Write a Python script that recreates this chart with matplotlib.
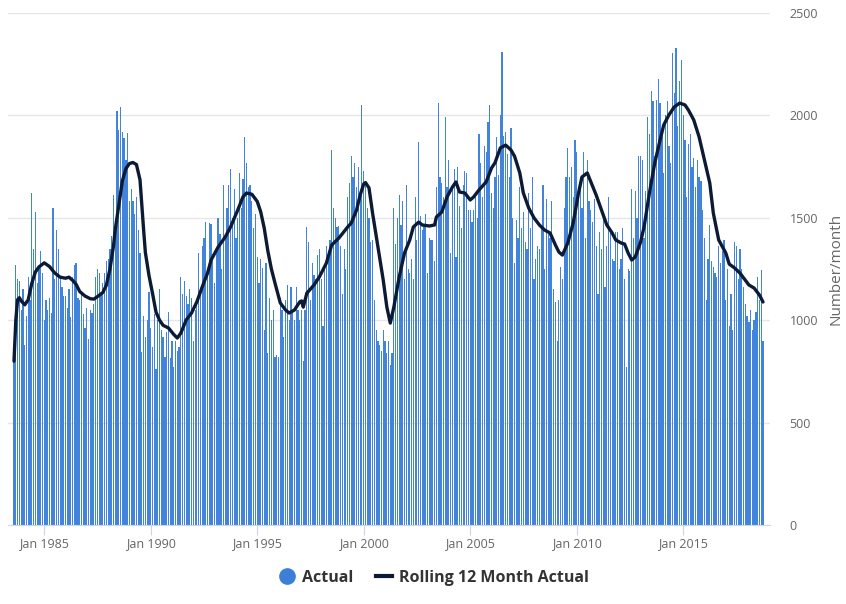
import numpy as np
import pandas as pd
import matplotlib
matplotlib.use("Agg")
import matplotlib.pyplot as plt
import matplotlib.dates as mdates
from matplotlib.lines import Line2D

plt.rcParams["font.family"] = ["Open Sans", "DejaVu Sans"]

# monthly actuals, Aug 1983 .. Oct 2018 (one row per year)
FIRST_MONTH = "1983-08-01"
actual = [
    800, 1270, 1200, 1190, 1050,                                              # 1983
    1150, 880, 1020, 1210, 1100, 1620, 1350, 1530, 1180, 1260, 1340, 1230,    # 1984
    1000, 1100, 1050, 1110, 1035, 1550, 1200, 1440, 1350, 1200, 1160, 1120,   # 1985
    1120, 1060, 1150, 1015, 1210, 1270, 1280, 1110, 1100, 1140, 1030, 960,    # 1986
    1060, 910, 1050, 1035, 1080, 1210, 1250, 1230, 1130, 1180, 1230, 1290,    # 1987
    1300, 1350, 1410, 1610, 1480, 2020, 1930, 2040, 1920, 1890, 1780, 1915,   # 1988
    1580, 1640, 1580, 1520, 1600, 1440, 1330, 845, 1020, 920, 1000, 1140,     # 1989
    960, 870, 1030, 760, 1000, 1150, 950, 920, 820, 940, 1040, 815,           # 1990
    900, 770, 900, 850, 870, 1210, 1130, 1190, 1120, 1080, 1150, 1110,        # 1991
    900, 1050, 1100, 1330, 1150, 1360, 1400, 1480, 1250, 1475, 1470, 1310,    # 1992
    1180, 1350, 1500, 1420, 1250, 1660, 1400, 1550, 1660, 1740, 1500, 1640,   # 1993
    1400, 1500, 1720, 1550, 1690, 1895, 1770, 1650, 1660, 1580, 1450, 1520,   # 1994
    1310, 1180, 1300, 1255, 950, 1280, 840, 1110, 1000, 1050, 820, 830,       # 1995
    820, 1110, 1050, 920, 1100, 1170, 1000, 1160, 1050, 1000, 1160, 1050,     # 1996
    1000, 1050, 800, 1050, 1455, 1380, 1100, 1280, 1220, 1200, 1320, 1350,    # 1997
    1200, 970, 1250, 1360, 1300, 1390, 1830, 1550, 1500, 1455, 1460, 1360,    # 1998
    1130, 1350, 1250, 1600, 1670, 1800, 1700, 1770, 1650, 1750, 1620, 2050,   # 1999
    1730, 1670, 1550, 1500, 1380, 1390, 1100, 950, 900, 880, 850, 950,        # 2000
    900, 840, 900, 780, 840, 1550, 1370, 1500, 1610, 1465, 1580, 1200,        # 2001
    1660, 1250, 1230, 1300, 1200, 1600, 1390, 1870, 1510, 1440, 1460, 1520,   # 2002
    1230, 1400, 1390, 1390, 1290, 1650, 2060, 1700, 1670, 1600, 1990, 1650,   # 2003
    1780, 1330, 1640, 1740, 1310, 1750, 1560, 1450, 1660, 1730, 1720, 1540,   # 2004
    1540, 1480, 1540, 1600, 1500, 1910, 1770, 1600, 1850, 1820, 1970, 2050,   # 2005
    1620, 1550, 1700, 1895, 1710, 2000, 2310, 1900, 1920, 1810, 1700, 1940,   # 2006
    1500, 1280, 1490, 1400, 1650, 1450, 1530, 1380, 1350, 1620, 1450, 1700,   # 2007
    1200, 1300, 1360, 1350, 1450, 1660, 1250, 1590, 1420, 1400, 1580, 1150,   # 2008
    1090, 900, 1100, 1260, 1200, 1550, 1700, 1840, 1700, 1750, 1600, 1880,    # 2009
    1820, 1650, 1700, 1550, 1820, 1400, 1780, 1580, 1540, 1480, 1590, 1360,   # 2010
    1130, 1430, 1350, 1500, 1160, 1360, 1600, 1450, 1300, 1290, 1430, 1430,   # 2011
    1250, 1300, 1450, 1200, 770, 1250, 1240, 1640, 1400, 1630, 1500, 1800,    # 2012
    1800, 1780, 1400, 1630, 1990, 1910, 2120, 2070, 1800, 2075, 2180, 2060,   # 2013
    1900, 1720, 2000, 2070, 1850, 1770, 2305, 2110, 2330, 1950, 2170, 2270,   # 2014
    2000, 1880, 1600, 1860, 1910, 1750, 1790, 1650, 1780, 1700, 1680, 1540,   # 2015
    1400, 1100, 1300, 1465, 1290, 1260, 1230, 1210, 1360, 1280, 1340, 1390,   # 2016
    1100, 1250, 970, 1130, 950, 1380, 1360, 1200, 1350, 1250, 1160, 1080,     # 2017
    1020, 990, 1050, 950, 1000, 1040, 1210, 1100, 1245, 900,                  # 2018
]

# rolling 12 month line
roll_months = [
    "1983-08", "1983-09", "1983-10", "1983-11", "1983-12", "1984-02", "1984-04",
    "1984-06", "1984-08", "1984-10", "1985-01", "1985-04", "1985-07", "1985-10",
    "1986-01", "1986-03", "1986-05", "1986-07", "1986-09", "1986-12", "1987-03",
    "1987-05", "1987-07", "1987-10", "1987-12", "1988-02", "1988-04", "1988-05",
    "1988-07", "1988-09", "1988-11", "1989-01", "1989-03", "1989-05", "1989-07",
    "1989-08", "1989-09", "1989-10", "1989-12", "1990-02", "1990-04", "1990-06",
    "1990-08", "1990-11", "1991-02", "1991-04", "1991-06", "1991-09", "1991-12",
    "1992-03", "1992-06", "1992-09", "1992-11", "1993-03", "1993-07", "1993-10",
    "1994-02", "1994-05", "1994-07", "1994-10", "1995-01", "1995-03", "1995-05",
    "1995-07", "1995-09", "1995-11", "1996-02", "1996-05", "1996-07", "1996-10",
    "1997-01", "1997-02", "1997-03", "1997-05", "1997-09", "1997-12", "1998-04",
    "1998-07", "1998-11", "1999-04", "1999-06", "1999-09", "1999-11", "2000-01",
    "2000-02", "2000-04", "2000-06", "2000-09", "2000-12", "2001-02", "2001-04",
    "2001-06", "2001-09", "2001-12", "2002-03", "2002-05", "2002-08", "2002-10",
    "2003-02", "2003-05", "2003-06", "2003-09", "2003-12", "2004-03", "2004-05",
    "2004-07", "2004-10", "2005-01", "2005-03", "2005-06", "2005-10", "2006-01",
    "2006-03", "2006-06", "2006-09", "2006-12", "2007-02", "2007-05", "2007-07",
    "2007-10", "2008-01", "2008-04", "2008-07", "2008-10", "2009-01", "2009-03",
    "2009-05", "2009-08", "2009-11", "2010-02", "2010-04", "2010-07", "2010-09",
    "2010-12", "2011-03", "2011-06", "2011-09", "2011-11", "2012-02", "2012-04",
    "2012-06", "2012-08", "2012-10", "2013-01", "2013-03", "2013-06", "2013-09",
    "2013-12", "2014-02", "2014-05", "2014-08", "2014-11", "2015-02", "2015-04",
    "2015-07", "2015-10", "2016-01", "2016-04", "2016-06", "2016-09", "2017-01",
    "2017-03", "2017-06", "2017-09", "2017-12", "2018-02", "2018-05", "2018-08",
    "2018-10",
]
roll_values = [
    800, 1000, 1100, 1110, 1095, 1075, 1100,
    1180, 1235, 1260, 1280, 1262, 1230, 1210,
    1205, 1210, 1195, 1175, 1140, 1118, 1105,
    1103, 1115, 1135, 1170, 1250, 1360, 1440,
    1560, 1680, 1740, 1765, 1770, 1760, 1685,
    1560, 1440, 1330, 1220, 1130, 1040, 1000,
    975, 962, 930, 913, 937, 1001, 1035,
    1089, 1162, 1230, 1294, 1357, 1406, 1455,
    1538, 1602, 1621, 1615, 1580, 1530, 1450,
    1340, 1250, 1182, 1084, 1050, 1035, 1050,
    1090, 1094, 1064, 1132, 1172, 1211, 1279,
    1367, 1401, 1455, 1474, 1538, 1611, 1665,
    1672, 1646, 1523, 1357, 1196, 1064, 986,
    1064, 1211, 1328, 1392, 1455, 1479, 1465,
    1460, 1465, 1504, 1528, 1602, 1650, 1675,
    1626, 1621, 1587, 1602, 1636, 1675, 1743,
    1768, 1841, 1855, 1831, 1800, 1719, 1621,
    1548, 1499, 1465, 1440, 1426, 1367, 1333,
    1318, 1377, 1474, 1621, 1699, 1719, 1675,
    1611, 1538, 1465, 1426, 1392, 1377, 1372,
    1328, 1294, 1309, 1382, 1455, 1621, 1768,
    1880, 1953, 2002, 2041, 2060, 2051, 2026,
    1978, 1895, 1782, 1670, 1523, 1392, 1328,
    1274, 1255, 1230, 1196, 1172, 1157, 1123,
    1089,
]

BAR_BLUE = "#4284dc"
DOT_BLUE = "#3b7fd9"
NAVY = "#0c1a33"
GRID = "#e6e6e6"
TXT = "#666666"

months = pd.date_range(FIRST_MONTH, periods=len(actual), freq="MS")
roll_x = pd.to_datetime(roll_months)

fig = plt.figure(figsize=(8.46, 6.04), dpi=100)
ax = fig.add_axes([8 / 846, 1 - 525 / 604, 762 / 846, 512 / 604])

ax.bar(months, actual, width=21, color=BAR_BLUE, linewidth=0, zorder=2)
ax.plot(roll_x, roll_values, color=NAVY, lw=2.4, zorder=3,
        solid_joinstyle="round", solid_capstyle="round")

ax.set_ylim(0, 2500)
ax.set_yticks(np.arange(0, 2501, 500))
ax.set_xlim(months[0] - pd.Timedelta(days=103), months[-1] + pd.Timedelta(days=120))
ax.grid(axis="y", color=GRID, lw=1)
ax.set_axisbelow(True)

for s in ("top", "left", "right"):
    ax.spines[s].set_visible(False)
ax.spines["bottom"].set_color("#ccd6eb")

ax.xaxis.set_major_locator(mdates.YearLocator(5, month=1, day=1))
ax.xaxis.set_major_formatter(mdates.DateFormatter("Jan %Y"))
ax.tick_params(axis="x", colors="#ccd6eb", length=7, width=0.8, labelcolor=TXT,
               labelsize=9, pad=2)
ax.yaxis.tick_right()
ax.tick_params(axis="y", length=0, pad=14, labelcolor=TXT, labelsize=9)

fig.text(836 / 846, 1 - 269 / 604, "Number/month", rotation=90, ha="center",
         va="center", color=TXT, fontsize=11)

handles = [Line2D([], [], marker="o", ls="none", color=DOT_BLUE, markersize=11),
           Line2D([], [], color=NAVY, lw=3)]
fig.legend(handles, ["Actual", "Rolling 12 Month Actual"], ncol=2, frameon=False,
           loc="center", bbox_to_anchor=(0.513, 0.043), handlelength=1.0,
           handletextpad=0.45, columnspacing=1.4,
           prop={"weight": "bold", "size": 11.5}, labelcolor="#333333")

fig.savefig("out.png", dpi=100)
